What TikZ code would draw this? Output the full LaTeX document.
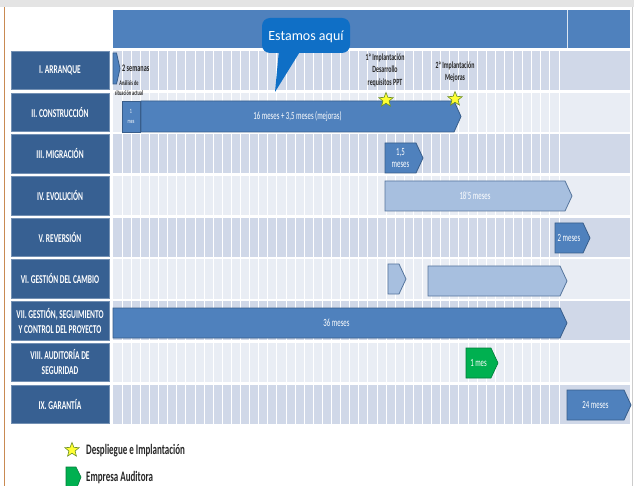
\documentclass[tikz,border=0pt]{standalone}
\usepackage{fontspec}
\setmainfont{Carlito}
\newfontfamily\condf[FakeStretch=0.62]{Carlito}
\usetikzlibrary{shapes.geometric}

\definecolor{framegray}{HTML}{E4E4E4}
\definecolor{frameorange}{HTML}{C98A52}
\definecolor{hdrblue}{HTML}{4F81BD}
\definecolor{lblblue}{HTML}{376092}
\definecolor{rowdark}{HTML}{D0D8E8}
\definecolor{rowlight}{HTML}{E9EDF4}
\definecolor{barmid}{HTML}{4F81BD}
\definecolor{barlight}{HTML}{A7BFDF}
\definecolor{barline}{HTML}{385D8A}
\definecolor{audgreen}{HTML}{00B050}
\definecolor{callblue}{HTML}{0F6FC6}
\definecolor{starfill}{HTML}{FFFF33}
\definecolor{starline}{HTML}{6B8E23}

\tikzset{
  rowlabel/.style={fill=lblblue, draw=lblblue!70!white, line width=0.6pt, minimum width=98pt, minimum height=38.5pt,
    inner sep=0pt, text=white, align=center, font=\condf\bfseries\fontsize{12}{15}\selectfont},
  bartext/.style={text=white, inner sep=0pt, align=center, font=\condf\fontsize{11}{12.5}\selectfont},
  midbar/.style={fill=barmid, draw=barline, line width=0.8pt},
  lightbar/.style={fill=barlight, draw=barline!85, line width=0.8pt},
  audbar/.style={fill=audgreen, draw=audgreen!70!black, line width=0.6pt},
  mstar/.style={star, star points=5, star point ratio=2.3, fill=starfill, draw=starline, line width=0.6pt,
    minimum size=15pt, inner sep=0pt},
  startext/.style={text=black!85, inner sep=0pt, align=center, font=\condf\bfseries\fontsize{9.5}{12.5}\selectfont},
  legtext/.style={text=black!85, inner sep=0pt, anchor=west, font=\condf\bfseries\fontsize{14.5}{16}\selectfont},
  gridline/.style={white, line width=0.7pt},
}

\newcommand\ganttbar[7]{%
  \pgfmathsetmacro\gtip{min(7,0.5*(#3-#2))}%
  \pgfmathsetmacro\gmid{0.5*(#4+#5)}%
  \draw[#6] (#2,#4) -- ({#3-\gtip},#4) -- (#3,\gmid) -- ({#3-\gtip},#5) -- (#2,#5) -- cycle;
  \node[bartext] (#1) at ({0.5*(#2+#3-\gtip)},\gmid) {#7};}

\begin{document}
\begin{tikzpicture}[x=1pt,y=-1pt]
\useasboundingbox (0,0) rectangle (634,486);
% frame
\fill[white] (0,0) rectangle (634,486);
\fill[framegray] (0,0) rectangle (634,7.5);
\draw[frameorange, line width=1pt] (4.5,7.5) -- (4.5,486);
\draw[black!20, line width=0.8pt] (632.5,7.5) -- (632.5,486);
% header
\fill[hdrblue] (113,10) rectangle (630,48);
\draw[white!80!hdrblue, line width=1pt] (567,10) -- (567,48);
% row bands
\foreach \i in {0,...,8}{
  \pgfmathsetmacro\rtop{51+41.7*\i}
  \pgfmathtruncatemacro\rpar{mod(\i,2)}
  \ifnum\rpar=0 \fill[rowdark] (113,\rtop) rectangle (630,\rtop+39);
  \else \fill[rowlight] (113,\rtop) rectangle (630,\rtop+39); \fi
}
% grid
\foreach \k in {1,...,49}{
  \draw[gridline] ({113+\k*9.1},51) -- ({113+\k*9.1},424);
}
% row labels
\node[rowlabel] (l1) at (60,70.5) {I. ARRANQUE};
\node[rowlabel] (l2) at (60,112.2) {II. CONSTRUCCIÓN};
\node[rowlabel] (l3) at (60,153.9) {III. MIGRACIÓN};
\node[rowlabel] (l4) at (60,195.6) {IV. EVOLUCIÓN};
\node[rowlabel] (l5) at (60,237.3) {V. REVERSIÓN};
\node[rowlabel] (l6) at (60,279) {VI. GESTIÓN DEL CAMBIO};
\node[rowlabel] (l7) at (60,320.7) {VII. GESTIÓN, SEGUIMIENTO\\Y CONTROL DEL PROYECTO};
\node[rowlabel] (l8) at (60,362.4) {VIII. AUDITORÍA DE\\SEGURIDAD};
\node[rowlabel] (l9) at (60,404.1) {IX. GARANTÍA};
% bars
\ganttbar{b1}{113}{120}{53}{84}{midbar}{}
\node[anchor=west, inner sep=0pt, text=black!85, font=\condf\bfseries\fontsize{10}{11}\selectfont] (sem) at (122,68) {2 semanas};
\node[inner sep=0pt, text=black!85, align=center, font=\condf\bfseries\fontsize{7}{10}\selectfont] (ana) at (129,88) {Análisis de\\situación actual};
\node[draw=barline, line width=0.8pt, fill=barmid, minimum width=18pt, minimum height=31pt, inner sep=0pt,
  text=white, align=center, font=\condf\fontsize{6.5}{10}\selectfont] (mes1) at (131,116.5) {1\\mes};
\ganttbar{b2}{141}{461}{101}{132}{midbar}{16 meses + 3,5 meses (mejoras)}
\ganttbar{b3}{385}{423}{143}{173}{midbar}{1,5\\meses}
\ganttbar{b4}{385}{572}{181}{211}{lightbar}{18'5 meses}
\ganttbar{b5}{555}{590}{223}{253}{midbar}{2 meses}
\ganttbar{b6a}{388}{406}{264}{294}{lightbar}{}
\ganttbar{b6b}{428}{567}{266}{296}{lightbar}{}
\ganttbar{b7}{113}{567}{308}{338}{midbar}{36 meses}
\ganttbar{b8}{466}{498}{348}{378}{audbar}{1 mes}
\ganttbar{b9}{567}{631}{390}{420}{midbar}{24 meses}
% milestones
\node[startext] (t1) at (385,70) {1ª Implantación\\Desarrollo\\requisitos PPT};
\node[startext] (t2) at (455,72) {2ª Implantación\\Mejoras};
\node[mstar] (s1) at (386,100) {};
\node[mstar] (s2) at (455,99) {};
% callout
\fill[callblue, rounded corners=8pt] (262,18) rectangle (350,53);
\fill[callblue] (279,50) -- (301,50) -- (275,92) -- cycle;
\node[text=white, inner sep=0pt, font=\fontsize{14}{16}\selectfont] (call) at (306,37) {Estamos aquí};
% legend
\node[mstar] (ls) at (72,450) {};
\node[legtext] (lt1) at (86,451) {Despliegue e Implantación};
\draw[audbar] (66,467) -- (76,467) -- (81,477) -- (76,490) -- (66,490) -- cycle;
\node[legtext] (lt2) at (86,477.5) {Empresa Auditora};
\end{tikzpicture}
\end{document}
